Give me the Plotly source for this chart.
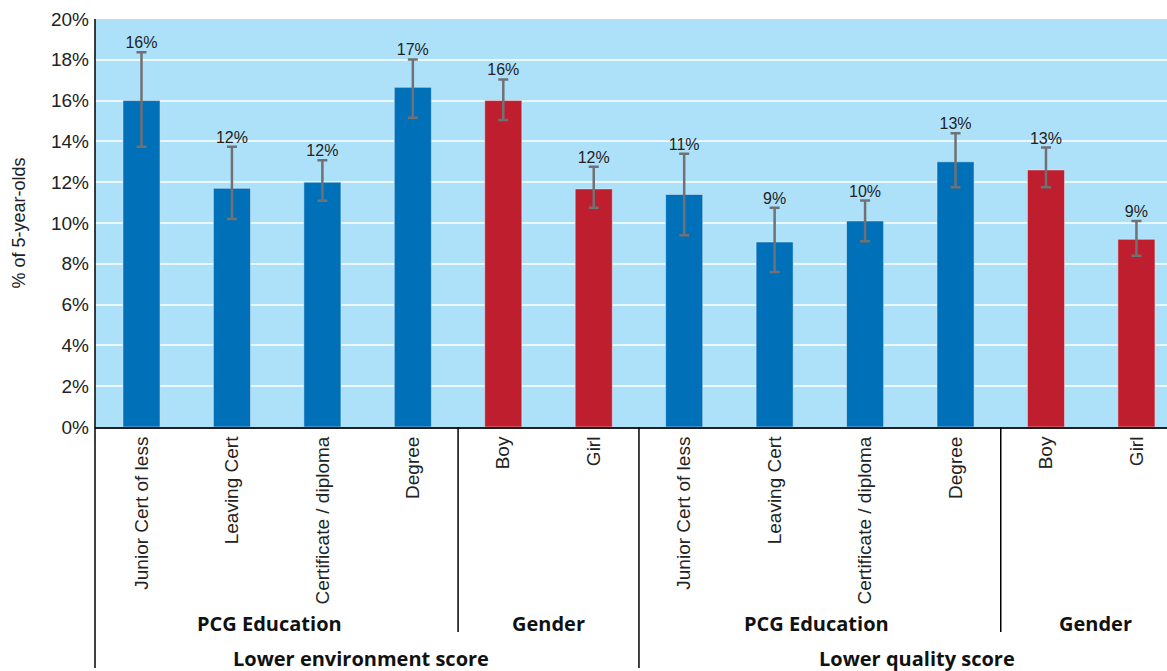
import plotly.graph_objects as go

# ---- data ----
categories = ["Junior Cert of less", "Leaving Cert", "Certificate / diploma", "Degree", "Boy", "Girl",
              "Junior Cert of less", "Leaving Cert", "Certificate / diploma", "Degree", "Boy", "Girl"]
subgroups = ["PCG Education"] * 4 + ["Gender"] * 2 + ["PCG Education"] * 4 + ["Gender"] * 2
outer_groups = ["Lower environment score"] * 6 + ["Lower quality score"] * 6
values = [16.0, 11.7, 12.0, 16.65, 16.0, 11.67, 11.4, 9.07, 10.1, 13.0, 12.6, 9.2]
upper = [18.37, 13.74, 13.07, 18.02, 17.04, 12.76, 13.4, 10.75, 11.1, 14.4, 13.7, 10.1]
lower = [13.74, 10.2, 11.09, 15.16, 15.05, 10.75, 9.4, 7.6, 9.1, 11.75, 11.75, 8.4]
labels = ["16%", "12%", "12%", "17%", "16%", "12%", "11%", "9%", "10%", "13%", "13%", "9%"]
y_ticks = [0, 2, 4, 6, 8, 10, 12, 14, 16, 18, 20]

BLUE = "#0070b9"
RED = "#be1e2d"
color_map = {"PCG Education": BLUE, "Gender": RED}

x = list(range(len(categories)))
bar_colors = [color_map[g] for g in subgroups]
err_plus = [u - v for u, v in zip(upper, values)]
err_minus = [v - l for v, l in zip(values, lower)]

fig = go.Figure()
fig.add_trace(go.Bar(
    x=x, y=values, marker_color=bar_colors, width=0.41,
    error_y=dict(type="data", symmetric=False, array=err_plus, arrayminus=err_minus,
                 color="#707174", thickness=2.5, width=5),
    hoverinfo="skip", showlegend=False,
))
fig.add_trace(go.Scatter(
    x=x, y=upper, mode="text", text=labels, textposition="top center",
    textfont=dict(family="Liberation Sans, Arial, sans-serif", size=16, color="#222222"),
    hoverinfo="skip", showlegend=False,
))

H = 671
top, bottom = 19, 244
plot_h = H - top - bottom


def paper_y(py):
    return (H - bottom - py) / plot_h


shapes = []
# left axis line (extends through label area)
shapes.append(dict(type="line", xref="paper", yref="paper", x0=0, x1=0, y0=1, y1=paper_y(668),
                   line=dict(color="#000000", width=1.5)))
# dividers between groups
for i in range(1, len(x)):
    if outer_groups[i] != outer_groups[i - 1]:
        shapes.append(dict(type="line", xref="x", yref="paper", x0=i - 0.5, x1=i - 0.5,
                           y0=0, y1=paper_y(668), line=dict(color="#000000", width=1.5)))
    elif subgroups[i] != subgroups[i - 1]:
        shapes.append(dict(type="line", xref="x", yref="paper", x0=i - 0.5, x1=i - 0.5,
                           y0=0, y1=paper_y(632), line=dict(color="#000000", width=1.5)))

annotations = []
bold_font = dict(family="Open Sans, Noto Sans, sans-serif", size=20, color="#111111")
sub_pos = [(1.42, "PCG Education"), (4.5, "Gender"), (7.46, "PCG Education"), (10.55, "Gender")]
for xc, t in sub_pos:
    annotations.append(dict(x=xc, y=paper_y(623), xref="x", yref="paper", text="<b>%s</b>" % t,
                            showarrow=False, font=bold_font, xanchor="center", yanchor="middle"))
outer_pos = [(2.43, "Lower environment score"), (8.57, "Lower quality score")]
for xc, t in outer_pos:
    annotations.append(dict(x=xc, y=paper_y(658), xref="x", yref="paper", text="<b>%s</b>" % t,
                            showarrow=False, font=bold_font, xanchor="center", yanchor="middle"))

fig.update_layout(
    width=1167, height=671,
    margin=dict(l=95, r=0, t=top, b=bottom),
    paper_bgcolor="#ffffff",
    plot_bgcolor="#ade1fa",
    shapes=shapes,
    annotations=annotations,
    font=dict(family="Liberation Sans, Arial, sans-serif", color="#222222"),
    xaxis=dict(
        range=[-0.514, 11.338], tickmode="array", tickvals=x, ticktext=categories,
        tickangle=-90, tickfont=dict(size=19, color="#222222"),
        showgrid=False, zeroline=False, showline=True, linecolor="#231f20", linewidth=2,
        ticks="", fixedrange=True,
    ),
    yaxis=dict(
        range=[0, 20], tickmode="array", tickvals=y_ticks,
        ticktext=["%d%%" % v for v in y_ticks],
        tickfont=dict(size=19, color="#222222"),
        showgrid=True, gridcolor="rgba(255,255,255,0.75)", gridwidth=1.5,
        zeroline=False, showline=False, ticks="", ticklabelstandoff=5,
        title=dict(text="% of 5-year-olds", font=dict(size=18, color="#222222"), standoff=20),
    ),
)

fig.write_html("out.html", config={"displayModeBar": False},
               post_script="document.body.style.margin='0';document.body.style.overflow='hidden';")
